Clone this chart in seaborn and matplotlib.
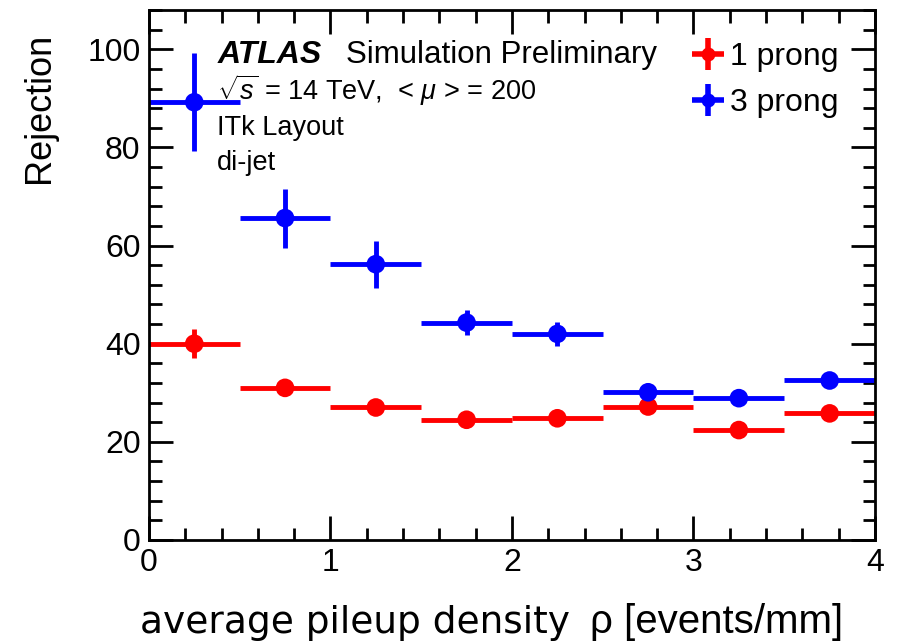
import numpy as np
import pandas as pd
import matplotlib
matplotlib.use("Agg")
import matplotlib.pyplot as plt
import seaborn as sns
from matplotlib.ticker import MultipleLocator

# bin centres of pileup density (events/mm), bin width 0.5
rho_centres = [0.25, 0.75, 1.25, 1.75, 2.25, 2.75, 3.25, 3.75]
bin_half_width = 0.25

# rejection values
rej_1prong = [40.0, 31.0, 27.0, 24.5, 24.8, 27.2, 22.4, 25.8]
err_1prong = [3.0, 1.5, 1.0, 0.8, 0.8, 0.8, 0.8, 0.8]
rej_3prong = [89.2, 65.6, 56.2, 44.3, 42.0, 30.1, 28.9, 32.5]
err_3prong = [10.0, 6.0, 4.8, 2.5, 2.4, 1.0, 1.0, 1.0]

series_labels = ["1 prong", "3 prong"]
series_colors = {"1 prong": "#ff0000", "3 prong": "#0000ff"}

df = pd.DataFrame({
    "rho": rho_centres * 2,
    "rejection": rej_1prong + rej_3prong,
    "err": err_1prong + err_3prong,
    "prong": [series_labels[0]] * 8 + [series_labels[1]] * 8,
})

sns.set_style("ticks")
plt.rcParams["font.family"] = ["Liberation Sans", "DejaVu Sans"]
plt.rcParams["mathtext.fontset"] = "custom"
plt.rcParams["mathtext.rm"] = "Liberation Sans"
plt.rcParams["mathtext.it"] = "Liberation Sans:italic"
for key in ["text.color", "axes.labelcolor", "xtick.color", "ytick.color", "axes.edgecolor"]:
    plt.rcParams[key] = "black"

fig = plt.figure(figsize=(8.97, 6.44), dpi=100)
ax = fig.add_axes([0.166, 0.1615, 0.8095, 0.823])

for lab in series_labels:
    sub = df[df["prong"] == lab]
    ax.errorbar(sub["rho"], sub["rejection"], xerr=bin_half_width, yerr=sub["err"],
                fmt="none", ecolor=series_colors[lab], elinewidth=3.5, capsize=0)

sns.scatterplot(data=df, x="rho", y="rejection", hue="prong", palette=series_colors,
                s=180, edgecolor="none", legend=False, ax=ax, zorder=3)

# legend: marker + cross like ROOT
leg_handles = []
for lab in series_labels:
    h = ax.errorbar([], [], xerr=[], yerr=[], fmt="o", color=series_colors[lab],
                    ms=9, elinewidth=4, capsize=0)
    leg_handles.append(h)
ax.legend(leg_handles, series_labels, loc="upper left", bbox_to_anchor=(0.708, 0.99),
          frameon=False, fontsize=23, handlelength=1.1, handletextpad=0.15,
          labelspacing=0.5, borderaxespad=0.45)

ax.set_xlim(0, 4)
ax.set_ylim(0, 108)
ax.xaxis.set_major_locator(MultipleLocator(1))
ax.xaxis.set_minor_locator(MultipleLocator(0.2))
ax.yaxis.set_major_locator(MultipleLocator(20))
ax.yaxis.set_minor_locator(MultipleLocator(4))
ax.tick_params(which="both", direction="in", top=True, right=True, width=2, labelsize=23)
ax.tick_params(which="major", length=17, pad=6)
ax.tick_params(which="minor", length=9)
for sp in ax.spines.values():
    sp.set_linewidth(2)

ax.set_ylabel("Rejection", fontsize=26)
ax.yaxis.set_label_coords(-0.127, 0.815)
ax.set_xlabel("")

# x title: two pieces, as in the original (handwritten-style part + symbol part)
fig.text(140 / 897, (644 - 633) / 644, "average pileup density", fontsize=27,
         family=["DejaVu Sans"], ha="left", va="baseline")
fig.text(590 / 897, (644 - 633) / 644, "ρ [events/mm]", fontsize=29,
         ha="left", va="baseline")

ax.text(0.094, 0.90, "ATLAS", transform=ax.transAxes, fontsize=23,
        fontweight="bold", fontstyle="italic")
ax.text(0.272, 0.90, "Simulation Preliminary", transform=ax.transAxes, fontsize=22.5)
ax.text(0.094, 0.83, r"$\sqrt{s}$ = 14 TeV,  < $\mu$ > = 200", transform=ax.transAxes, fontsize=19.5)
ax.text(0.094, 0.765, "ITk Layout", transform=ax.transAxes, fontsize=19.5)
ax.text(0.094, 0.698, "di-jet", transform=ax.transAxes, fontsize=19.5)

fig.savefig("out.png", dpi=100)
